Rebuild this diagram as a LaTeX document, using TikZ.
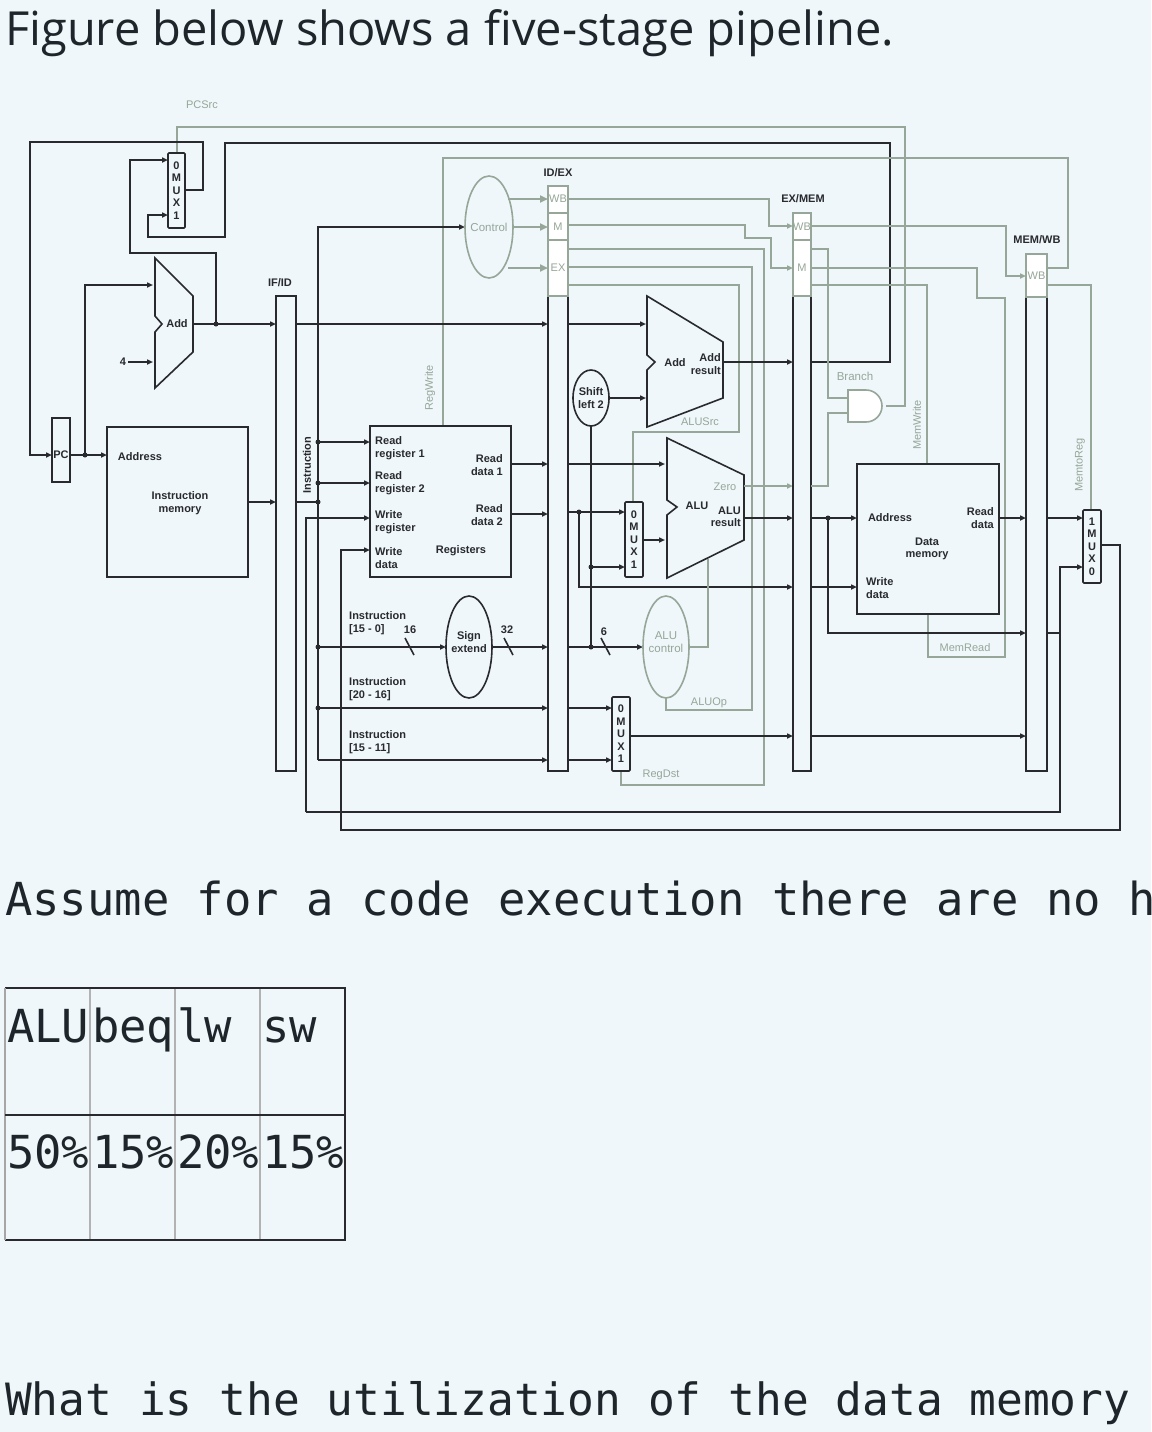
\documentclass[tikz,border=0pt]{standalone}
\usepackage{fontspec}
\setmainfont{Liberation Sans}
\newfontfamily\titlefont{Open Sans}
\newfontfamily\codefont{DejaVu Sans Mono}
\usetikzlibrary{arrows.meta,shapes.geometric}
\definecolor{bgc}{RGB}{239,247,250}
\definecolor{dk}{RGB}{40,42,46}
\definecolor{gc}{RGB}{150,166,152}
\definecolor{txt}{RGB}{30,38,44}
\tikzset{
 dl/.style={draw=dk,line width=1.6pt},
 gl/.style={draw=gc,line width=1.6pt},
 ar/.style={-{Triangle[length=6pt,width=5pt]}},
 dotc/.style={circle,fill=dk,inner sep=0pt,minimum size=5pt},
 lbl/.style={font=\bfseries\fontsize{11}{12.5}\selectfont,text=dk,inner sep=0pt,align=left},
 glbl/.style={font=\fontsize{11}{12.5}\selectfont,text=gc,inner sep=0pt,align=left},
 muxt/.style={font=\bfseries\fontsize{11}{12.5}\selectfont,text=dk,inner sep=0pt,align=center},
 regbox/.style={draw=dk,line width=1.6pt,fill=bgc},
 gbox/.style={draw=gc,line width=1.6pt,fill=white}
}
\begin{document}
\begin{tikzpicture}[x=1pt,y=-1pt,line join=miter]
\fill[bgc] (0,0) rectangle (1151,1432);
\useasboundingbox (0,0) rectangle (1151,1432);
\node[anchor=base west,inner sep=0,text=txt,font=\titlefont\fontsize{47}{50}\selectfont] (title) at (5,45) {Figure below shows a five-stage pipeline.};

% ---------- long wires ----------
\draw[gl] (177,153) -- (177,127) -- (905,127) -- (905,406) -- (886,406);
\node[glbl] (pcsrc) at (202,105) {PCSrc};
\draw[dl,ar] (185,190) -- (203,190) -- (203,142) -- (30,142) -- (30,455) -- (52,455);
\draw[dl,ar] (811,362) -- (890,362) -- (890,143) -- (225,143) -- (225,237) -- (148,237) -- (148,215) -- (168,215);
\draw[gl] (443,426) -- (443,158) -- (1068,158) -- (1068,268) -- (1047,268);
\node[glbl,rotate=90] (regw) at (430,388) {RegWrite};
\draw[dl,ar] (1047,633) -- (1060,633) -- (1060,567) -- (1083,567);
\draw[dl] (1060,633) -- (1060,812) -- (306,812);
\draw[dl,ar] (306,812) -- (306,518) -- (370,518);
\draw[dl,ar] (1101,545) -- (1120,545) -- (1120,830) -- (341,830) -- (341,550) -- (370,550);

% ---------- IF stage ----------
\node[regbox,minimum width=18pt,minimum height=64pt,inner sep=0] (pc) at (61,450) {};
\node[lbl] at (61,455) {PC};
\draw[dl,ar] (70,455) -- (107,455);
\node[dotc] (d1) at (85,455) {};
\draw[dl,ar] (85,455) -- (85,285) -- (153,285);
\draw[regbox] (155,258) -- (193,296) -- (193,352) -- (155,388) -- (155,332) -- (162,324) -- (155,316) -- cycle;
\node[lbl] (add1) at (177,324) {Add};
\node[lbl] (four) at (123,362) {4};
\draw[dl,ar] (128,362) -- (153,362);
\draw[dl,ar] (193,324) -- (276,324);
\node[dotc] (d2) at (216,324) {};
\draw[dl,ar] (216,324) -- (216,253) -- (130,253) -- (130,160) -- (168,160);
\node[regbox,minimum width=17pt,minimum height=75pt,inner sep=0,rounded corners=1pt] (pcmux) at (176.5,190.5) {};
\node[muxt] at (176.5,190.5) {0\\M\\U\\X\\1};
\node[regbox,minimum width=141pt,minimum height=150pt,inner sep=0] (imem) at (177.5,502) {};
\node[lbl] at (140,457) {Address};
\node[lbl,align=center] at (180,503) {Instruction\\memory};
\draw[dl,ar] (248,502) -- (276,502);

\node[regbox,minimum width=20pt,minimum height=475pt,inner sep=0] (ifid) at (286,533.5) {};
\node[lbl] at (280,283) {IF/ID};
\node[lbl,rotate=90] at (307,465) {Instruction};

% ---------- ID stage ----------
\draw[dl,ar] (296,324) -- (548,324);
\draw[dl] (296,502) -- (318,502);
\draw[dl,ar] (318,760) -- (318,227) -- (465,227);
\foreach \y in {442,483} {\node[dotc] at (318,\y) {}; \draw[dl,ar] (318,\y) -- (370,\y);}
\node[dotc] at (318,502) {};
\node[dotc] at (318,647) {};
\node[dotc] at (318,708) {};
\draw[dl,ar] (318,647) -- (446,647);
\draw[dl,ar] (318,708) -- (548,708);
\draw[dl,ar] (318,760) -- (548,760);
\draw[dl] (405,638) -- (414,655);
\node[lbl] at (410,630) {16};
\node[lbl,anchor=west] at (349,623) {Instruction\\{}[15 - 0]};
\node[lbl,anchor=west] at (349,689) {Instruction\\{}[20 - 16]};
\node[lbl,anchor=west] at (349,742) {Instruction\\{}[15 - 11]};
\node[draw=dk,line width=1.6pt,ellipse,minimum width=46pt,minimum height=102pt,inner sep=0] (sext) at (469,647) {};
\node[lbl,align=center] at (469,642) {Sign\\extend};
\draw[dl,ar] (492,647) -- (548,647);
\draw[dl] (504,638) -- (513,655);
\node[lbl] at (507,630) {32};

\node[regbox,minimum width=141pt,minimum height=151pt,inner sep=0] (regs) at (440.5,501.5) {};
\node[lbl,anchor=west] at (375,448) {Read\\register 1};
\node[lbl,anchor=west] at (375,483) {Read\\register 2};
\node[lbl,anchor=west] at (375,522) {Write\\register};
\node[lbl,anchor=west] at (375,558) {Write\\data};
\node[lbl,align=right,anchor=east] at (503,465) {Read\\data 1};
\node[lbl,align=right,anchor=east] at (503,515) {Read\\data 2};
\node[lbl] at (461,551) {Registers};
\draw[dl,ar] (511,464) -- (548,464);
\draw[dl,ar] (511,514) -- (548,514);

\node[draw=gc,line width=1.6pt,ellipse,minimum width=48pt,minimum height=102pt,inner sep=0] (ctrl) at (489,227) {};
\node[glbl,font=\fontsize{11.5}{12.5}\selectfont] at (489,227) {Control};
\foreach \y/\x in {199/508,227/513,268/508} {\draw[draw=gc,line width=2.4pt,-{Triangle[length=8pt,width=7pt]}] (\x,\y) -- (548,\y);}

\node[regbox,minimum width=20pt,minimum height=475pt,inner sep=0] (idex) at (558,533.5) {};
\node[gbox,minimum width=20pt,minimum height=27pt,inner sep=0] at (558,199.5) {};
\node[gbox,minimum width=20pt,minimum height=27pt,inner sep=0] at (558,226.5) {};
\node[gbox,minimum width=20pt,minimum height=56pt,inner sep=0] at (558,268) {};
\node[glbl] at (558,199) {WB};
\node[glbl] at (558,227) {M};
\node[glbl] at (558,268) {EX};
\node[lbl] at (558,173) {ID/EX};

% ---------- EX stage ----------
\draw[gl,ar] (568,199) -- (769,199) -- (769,226) -- (793,226);
\draw[gl,ar] (568,225) -- (745,225) -- (745,238) -- (771,238) -- (771,268) -- (793,268);
\draw[gl] (568,249) -- (764,249) -- (764,785) -- (621,785) -- (621,771);
\draw[gl] (568,267) -- (752,267) -- (752,710) -- (666,710) -- (666,698);
\draw[gl] (568,285) -- (739,285) -- (739,432) -- (633,432) -- (633,502);
\node[glbl] at (700,422) {ALUSrc};
\node[glbl] at (709,703) {ALUOp};
\node[glbl] at (661,775) {RegDst};

\draw[dl,ar] (568,324) -- (646,324);
\draw[regbox] (647,296) -- (723,342) -- (723,398) -- (647,427) -- (647,370) -- (655,362) -- (647,355) -- cycle;
\node[lbl] at (675,363) {Add};
\node[lbl,align=right,anchor=east] at (721,364) {Add\\result};
\draw[dl,ar] (723,362) -- (793,362);
\node[draw=dk,line width=1.6pt,ellipse,minimum width=36pt,minimum height=56pt,inner sep=0] (shl) at (591,398) {};
\node[lbl,align=center] at (591,398) {Shift\\left 2};
\draw[dl,ar] (609,398) -- (646,398);
\draw[dl] (591,426) -- (591,647);

\draw[dl,ar] (568,464) -- (665,464);
\draw[regbox] (667,438) -- (744,475) -- (744,540) -- (667,578) -- (667,515) -- (677,507) -- (667,500) -- cycle;
\node[lbl] at (697,506) {ALU};
\node[lbl,align=right,anchor=east] at (741,517) {ALU\\result};
\node[glbl] at (725,487) {Zero};
\draw[gl,ar] (744,486) -- (793,486);
\draw[dl,ar] (744,518) -- (793,518);

\draw[dl,ar] (568,512) -- (625,512);
\node[dotc] at (579,512) {};
\draw[dl,ar] (579,512) -- (579,587) -- (793,587);
\node[dotc] at (591,567) {};
\draw[dl,ar] (591,567) -- (625,567);
\node[regbox,minimum width=18pt,minimum height=75pt,inner sep=0,rounded corners=1pt] (alumux) at (634,539.5) {};
\node[muxt] at (634,539.5) {0\\M\\U\\X\\1};
\draw[dl,ar] (643,540) -- (665,540);

\draw[dl,ar] (568,647) -- (643,647);
\node[dotc] at (591,647) {};
\draw[dl] (601,638) -- (610,655);
\node[lbl] at (604,632) {6};
\node[draw=gc,line width=1.6pt,ellipse,minimum width=46pt,minimum height=102pt,inner sep=0] (aluc) at (666,647) {};
\node[glbl,align=center,font=\fontsize{11.5}{13}\selectfont] at (666,642) {ALU\\control};
\draw[gl] (689,647) -- (708,647) -- (708,559);

\draw[dl,ar] (568,708) -- (612,708);
\draw[dl,ar] (568,760) -- (612,760);
\node[regbox,minimum width=18pt,minimum height=74pt,inner sep=0,rounded corners=1pt] (rdmux) at (621,734) {};
\node[muxt] at (621,734) {0\\M\\U\\X\\1};
\draw[dl,ar] (630,736) -- (793,736);

\node[regbox,minimum width=18pt,minimum height=475pt,inner sep=0] (exmem) at (802,533.5) {};
\node[gbox,minimum width=18pt,minimum height=27pt,inner sep=0] at (802,226.5) {};
\node[gbox,minimum width=18pt,minimum height=56pt,inner sep=0] at (802,268) {};
\node[glbl] at (802,227) {WB};
\node[glbl] at (802,268) {M};
\node[lbl] at (803,199) {EX/MEM};

% ---------- MEM stage ----------
\draw[gl,ar] (811,226) -- (1006,226) -- (1006,276) -- (1026,276);
\draw[gl] (811,249) -- (828,249) -- (828,398) -- (848,398);
\draw[gl] (811,486) -- (828,486) -- (828,413) -- (848,413);
\draw[gl] (811,268) -- (977,268) -- (977,298) -- (1005,298) -- (1005,657) -- (928,657) -- (928,614);
\draw[gl] (811,285) -- (927,285) -- (927,464);
\draw[draw=gc,line width=1.6pt,fill=white] (848,390) -- (866,390) arc[start angle=90,end angle=-90,radius=16pt] -- (848,422) -- cycle;
\node[glbl,font=\fontsize{11.5}{13}\selectfont] at (855,376) {Branch};
\node[glbl,rotate=90] at (917,425) {MemWrite};
\node[glbl] at (965,648) {MemRead};

\draw[dl,ar] (811,518) -- (857,518);
\node[dotc] at (828,518) {};
\draw[dl,ar] (828,518) -- (828,633) -- (1026,633);
\draw[dl,ar] (811,587) -- (857,587);
\draw[dl,ar] (811,736) -- (1026,736);
\node[regbox,minimum width=142pt,minimum height=150pt,inner sep=0] (dmem) at (928,539) {};
\node[lbl] at (890,518) {Address};
\node[lbl,align=right,anchor=east] at (994,518) {Read\\data};
\node[lbl,align=center] at (927,549) {Data\\memory};
\node[lbl,anchor=west] at (866,588) {Write\\data};
\draw[dl,ar] (999,518) -- (1026,518);

\node[regbox,minimum width=21pt,minimum height=517pt,inner sep=0] (memwb) at (1036.5,512.5) {};
\node[gbox,minimum width=21pt,minimum height=43pt,inner sep=0] at (1036.5,275.5) {};
\node[glbl] at (1036.5,276) {WB};
\node[lbl] at (1037,240) {MEM/WB};
\draw[gl] (1047,285) -- (1091,285) -- (1091,510);
\node[glbl,rotate=90] at (1080,465) {MemtoReg};
\draw[dl,ar] (1047,518) -- (1083,518);
\node[regbox,minimum width=18pt,minimum height=73pt,inner sep=0,rounded corners=1pt] (wbmux) at (1092,546.5) {};
\node[muxt] at (1092,546.5) {1\\M\\U\\X\\0};

% ---------- text below ----------
\node[anchor=base west,inner sep=0,text=txt,font=\codefont\fontsize{45.5}{48}\selectfont] (assume) at (5,915) {Assume for a code execution there are no h};
\draw[draw=gray!60,line width=1.5pt] (90,988) -- (90,1240) (175,988) -- (175,1240) (260,988) -- (260,1240);
\draw[draw=dk,line width=1.8pt] (5,988) -- (345,988) -- (345,1240) -- (5,1240);
\draw[draw=gray!70,line width=1.5pt] (5,988) -- (5,1240);
\draw[draw=dk,line width=1.8pt] (5,1115) -- (345,1115);
\foreach \t/\x in {ALU/7,beq/92,lw/177,sw/262} \node[anchor=base west,inner sep=0,text=txt,font=\codefont\fontsize{45.5}{48}\selectfont] at (\x,1042) {\t};
\foreach \t/\x in {50\%/7,15\%/92,20\%/177,15\%/262} \node[anchor=base west,inner sep=0,text=txt,font=\codefont\fontsize{45.5}{48}\selectfont] at (\x,1168) {\t};
\node[anchor=base west,inner sep=0,text=txt,font=\codefont\fontsize{44.5}{48}\selectfont] (what) at (5,1415) {What is the utilization of the data memory};
\end{tikzpicture}
\end{document}
